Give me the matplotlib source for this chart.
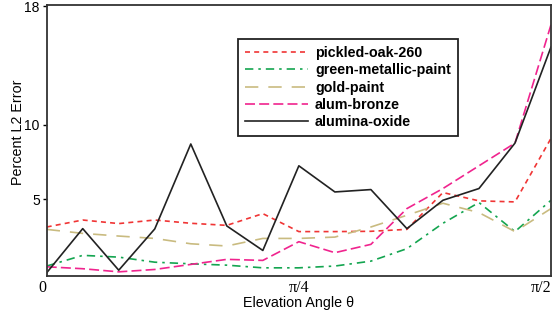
import numpy as np
import matplotlib
matplotlib.use("Agg")
import matplotlib.pyplot as plt

# Percent L2 error vs elevation angle, 15 samples from 0 to pi/2
theta = np.linspace(0, np.pi / 2, 15)

pickled_oak = [3.13, 3.6, 3.36, 3.6, 3.38, 3.24, 4.03, 2.82, 2.82, 2.84, 2.97, 5.45, 4.89, 4.82, 9.1]
green_metallic = [0.5, 1.22, 1.1, 0.76, 0.65, 0.56, 0.38, 0.38, 0.5, 0.83, 1.67, 3.38, 4.78, 2.82, 4.93]
gold_paint = [2.97, 2.7, 2.52, 2.36, 2.0, 1.85, 2.36, 2.36, 2.45, 3.13, 3.92, 4.73, 4.1, 2.82, 4.37]
alum_bronze = [0.45, 0.32, 0.11, 0.27, 0.61, 0.95, 0.88, 2.14, 1.4, 1.96, 4.37, 5.72, 7.25, 8.78, 16.75]
alumina_oxide = [0.05, 3.02, 0.22, 3.0, 8.72, 3.2, 1.55, 7.25, 5.49, 5.65, 3.02, 4.93, 5.72, 8.78, 15.25]

labels = ["pickled-oak-260", "green-metallic-paint", "gold-paint", "alum-bronze", "alumina-oxide"]

plt.rcParams['font.family'] = ['Liberation Sans', 'DejaVu Sans']

fig = plt.figure(figsize=(5.53, 3.13), dpi=100)
ax = fig.add_axes([46.7 / 553, 1 - 275.7 / 313, (551 - 46.7) / 553, (275.7 - 4.7) / 313])

lw = 1.2
ax.plot(theta, pickled_oak, color="#f03535", lw=lw, ls=(0, (3, 2.5)), label=labels[0])
ax.plot(theta, green_metallic, color="#14a550", lw=lw, ls=(0, (5, 3, 1.5, 3)), label=labels[1])
ax.plot(theta, gold_paint, color="#c9bb80", lw=lw, ls=(0, (8, 6)), label=labels[2])
ax.plot(theta, alum_bronze, color="#f0248e", lw=lw, ls=(0, (6, 2.5)), label=labels[3])
ax.plot(theta, alumina_oxide, color="#222222", lw=lw, ls="-", label=labels[4])

ax.set_xlim(0, np.pi / 2)
ax.set_ylim(-0.15, 18.1)

ax.set_yticks([5, 10, 18])
ax.tick_params(axis="y", direction="out", length=3, width=1, labelsize=10, pad=2)
ax.set_xticks([0, np.pi / 4, np.pi / 2])
ax.set_xticklabels(["0", "π/4", "π/2"], family="Liberation Serif", fontsize=11.5)
ax.tick_params(axis="x", length=0, pad=3)
xl = ax.get_xticklabels()
xl[0].set_ha("right")
xl[2].set_ha("right")

for s in ax.spines.values():
    s.set_color("#333333")
    s.set_linewidth(1.3)

ax.set_xlabel("Elevation Angle θ", fontsize=10.3, labelpad=0)
ax.set_ylabel("Percent L2 Error", fontsize=10.3)
ax.yaxis.set_label_coords(-0.043, 0.53)

leg = ax.legend(loc="upper left", bbox_to_anchor=(0.379, 0.873), borderaxespad=0,
                handlelength=4.4, handletextpad=0.5, labelspacing=0.22,
                prop={"weight": "bold", "size": 10.3}, fancybox=False, framealpha=1,
                borderpad=0.5)
leg.get_frame().set_edgecolor("#222222")
leg.get_frame().set_linewidth(1.3)

fig.savefig("out.png", dpi=100)
